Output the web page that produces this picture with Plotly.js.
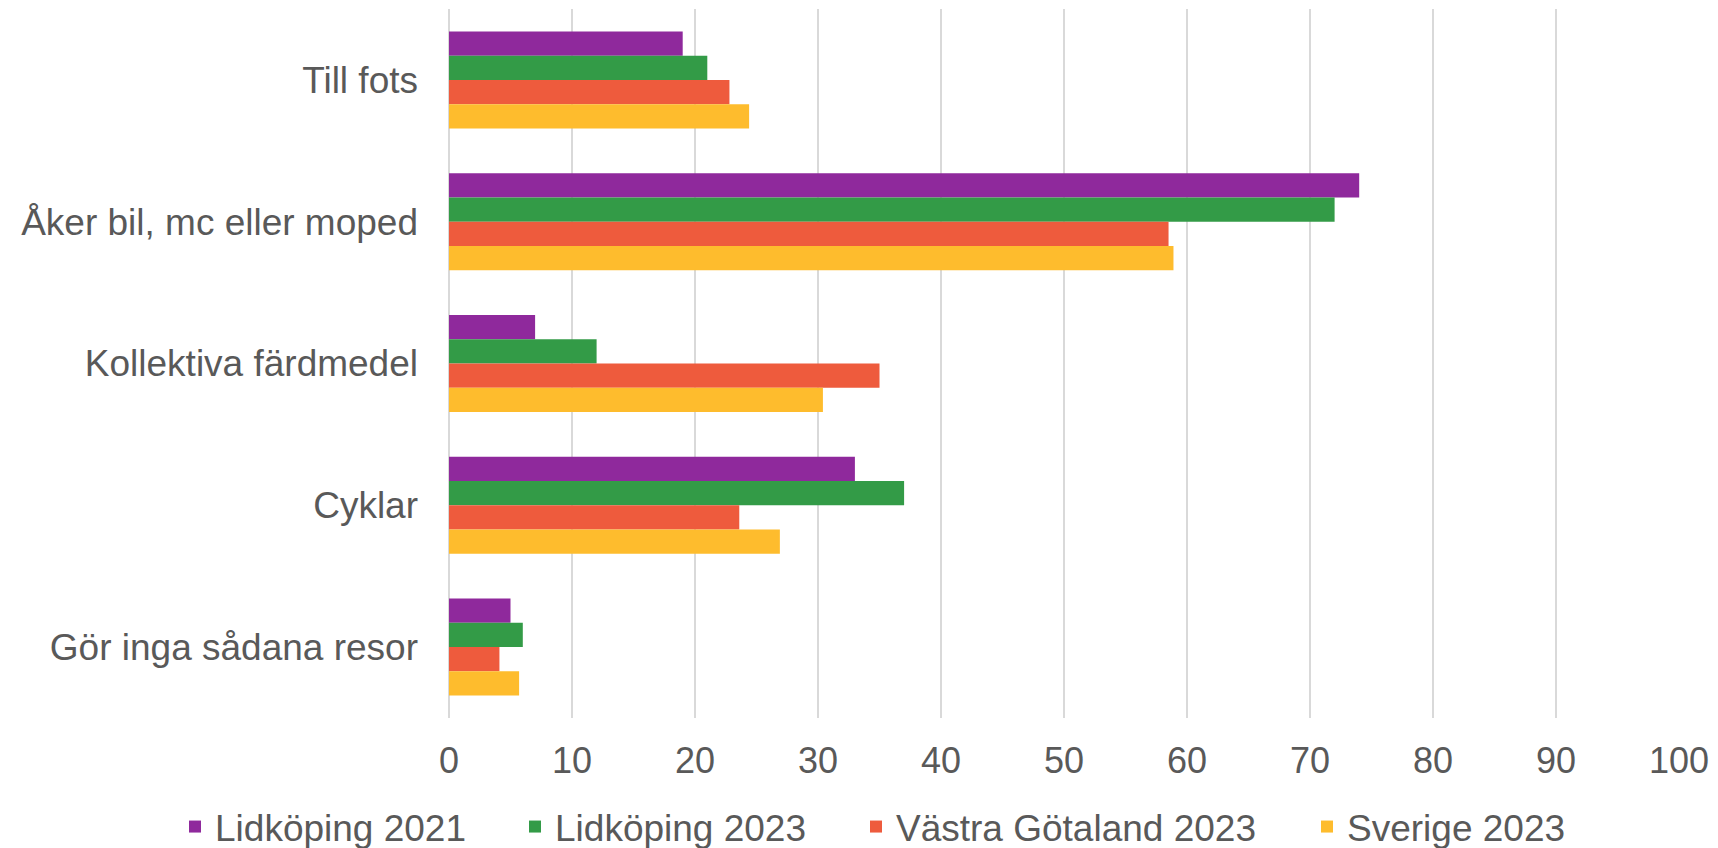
<!DOCTYPE html>
<html><head><meta charset="utf-8">
<script src="https://cdn.plot.ly/plotly-3.0.1.min.js"></script>
<style>html,body{margin:0;padding:0;background:#fff}#chart{width:1718px;height:848px}</style>
</head><body><div id="chart"></div>
<script>
const categories = ["Till fots", "Åker bil, mc eller moped", "Kollektiva färdmedel", "Cyklar", "Gör inga sådana resor"];
const seriesNames = ["Lidköping 2021", "Lidköping 2023", "Västra Götaland 2023", "Sverige 2023"];
const lidkoping2021 = [19.0, 74.0, 7.0, 33.0, 5.0];
const lidkoping2023 = [21.0, 72.0, 12.0, 37.0, 6.0];
const vastraGotaland2023 = [22.8, 58.5, 35.0, 23.6, 4.1];
const sverige2023 = [24.4, 58.9, 30.4, 26.9, 5.7];
const colors = ["#8F299C", "#339B47", "#EE5B3D", "#FEBC2D"];
const xTicks = [0,10,20,30,40,50,60,70,80,90,100];

const allValues = [lidkoping2021, lidkoping2023, vastraGotaland2023, sverige2023];
const legendIds = ["legend", "legend2", "legend3", "legend4"];
const legendX = [195, 535, 876, 1327];

const traces = allValues.map((vals, i) => ({
  type: "bar", orientation: "h", name: seriesNames[i],
  y: categories, x: vals,
  marker: {color: colors[i], line: {width: 0}},
  legend: legendIds[i],
  hoverinfo: "x+y+name"
}));

const family = "Liberation Sans, Arial, sans-serif";
const tickFont = {family: family, size: 36, color: "#595959"};
const catFont = {family: family, size: 37, color: "#595959"};
const legFont = {family: family, size: 37, color: "#595959"};
const layout = {
  width: 1718, height: 848,
  margin: {l: 448.5, r: 39, t: 9, b: 130},
  paper_bgcolor: "#fff", plot_bgcolor: "#fff",
  font: tickFont,
  barmode: "group", bargap: 0.316, bargroupgap: 0,
  xaxis: {range: [0, 100], tickvals: xTicks, ticktext: xTicks.map(String),
          showgrid: true, gridcolor: "#d9d9d9", gridwidth: 2,
          zeroline: true, zerolinecolor: "#d9d9d9", zerolinewidth: 2,
          showline: false, ticks: "", ticklabelstandoff: 18, tickfont: tickFont, fixedrange: true},
  yaxis: {autorange: "reversed", type: "category", showgrid: false, zeroline: false, showline: false,
          ticks: "", ticklabelstandoff: 30, tickfont: catFont, fixedrange: true},
  showlegend: true
};
legendIds.forEach((id, i) => {
  layout[id] = {orientation: "h", xref: "container", yref: "container",
    x: (legendX[i] - 20) / 1718, xanchor: "left", y: 21 / 848, yanchor: "middle",
    font: legFont, bgcolor: "rgba(0,0,0,0)", borderwidth: 0, itemwidth: 30};
});
Plotly.newPlot("chart", traces, layout, {displayModeBar: false, staticPlot: true});
</script></body></html>
